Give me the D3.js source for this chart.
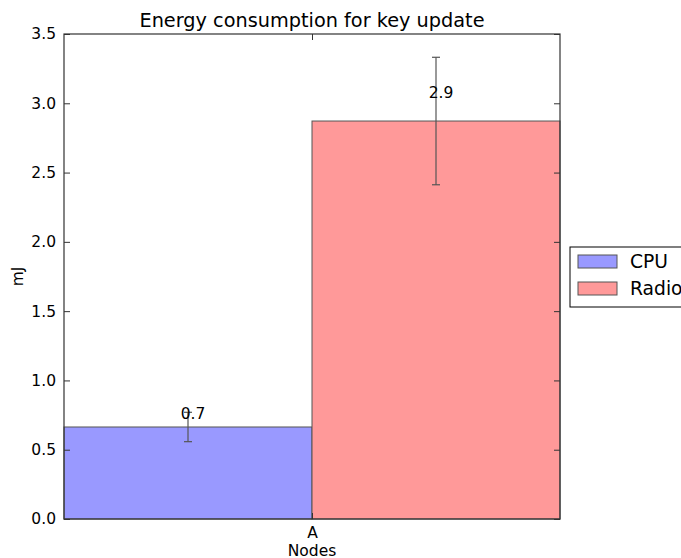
<!DOCTYPE html>
<html>
<head>
<meta charset="utf-8">
<script src="https://cdn.jsdelivr.net/npm/d3@7"></script>
<style>
body { margin: 0; background: #fff; }
text { font-family: "DejaVu Sans", sans-serif; }
</style>
</head>
<body>
<script>
var groups = ["A"]
var series = ["CPU", "Radio"]
var values = [0.664, 2.872]
var errors = [0.106, 0.46]
var labels = ["0.7", "2.9"]
var yTicks = [0, 0.5, 1.0, 1.5, 2.0, 2.5, 3.0, 3.5]
var colors = ["#9999ff", "#ff9999"]

var margin = {top: 34, left: 64, right: 121, bottom: 39}
var W = 681, H = 558
var w = W - margin.left - margin.right,
    h = H - margin.top - margin.bottom

var svg = d3.select("body").append("svg")
    .attr("width", W).attr("height", H)

var g = svg.append("g")
    .attr("transform", `translate(${margin.left}, ${margin.top})`)

var x = d3.scaleBand().domain(series).range([0, w]).padding(0)
var y = d3.scaleLinear().domain([0, 3.5]).range([h, 0])

// bars
g.selectAll("rect.bar").data(values).enter()
  .append("rect")
    .attr("class", "bar")
    .attr("x", function(d, i){ return x(series[i]) })
    .attr("width", x.bandwidth())
    .attr("y", function(d){ return y(d) })
    .attr("height", function(d){ return h - y(d) })
    .attr("fill", function(d, i){ return colors[i] })
    .attr("stroke", "#555")
    .attr("stroke-width", 1)

// error bars
var eb = g.selectAll("g.err").data(values).enter().append("g")
  .attr("stroke", "#555").attr("stroke-width", 1.2)
eb.append("line")
  .attr("x1", function(d, i){ return x(series[i]) + x.bandwidth() / 2 })
  .attr("x2", function(d, i){ return x(series[i]) + x.bandwidth() / 2 })
  .attr("y1", function(d, i){ return y(d - errors[i]) })
  .attr("y2", function(d, i){ return y(d + errors[i]) })
;[-1, 1].forEach(function(s){
  eb.append("line")
    .attr("x1", function(d, i){ return x(series[i]) + x.bandwidth() / 2 - 4 })
    .attr("x2", function(d, i){ return x(series[i]) + x.bandwidth() / 2 + 4 })
    .attr("y1", function(d, i){ return y(d + s * errors[i]) })
    .attr("y2", function(d, i){ return y(d + s * errors[i]) })
})

// value labels
g.selectAll("text.val").data(values).enter()
  .append("text")
    .attr("x", function(d, i){ return x(series[i]) + x.bandwidth() / 2 + 5 })
    .attr("y", function(d){ return y(d * 1.05) - 3 })
    .attr("text-anchor", "middle")
    .attr("font-size", 15.5)
    .text(function(d, i){ return labels[i] })

// axes (inward ticks, matplotlib classic)
var yAxis = g.append("g").call(d3.axisLeft(y).tickValues(yTicks).tickSizeInner(-6).tickSizeOuter(0).tickPadding(8)
    .tickFormat(d3.format(".1f")))
var yAxisR = g.append("g").attr("transform", `translate(${w},0)`)
    .call(d3.axisRight(y).tickValues(yTicks).tickSizeInner(-6).tickSizeOuter(0).tickFormat(""))
var xs = d3.scalePoint().domain(groups).range([0, w]).padding(0.5)
var xAxis = g.append("g").attr("transform", `translate(0, ${h})`)
    .call(d3.axisBottom(xs).tickSizeInner(-6).tickSizeOuter(0).tickPadding(8))
var xAxisT = g.append("g")
    .call(d3.axisTop(xs).tickSizeInner(-6).tickSizeOuter(0).tickFormat(""))

;[yAxis, yAxisR, xAxis, xAxisT].forEach(function(a){
  a.selectAll("path.domain").remove()
  a.selectAll("line").attr("stroke", "#333")
  a.selectAll("text").attr("font-size", 15.5).attr("fill", "#000").attr("font-family", "DejaVu Sans")
})

// frame
g.append("rect").attr("width", w).attr("height", h)
  .attr("fill", "none").attr("stroke", "#333").attr("stroke-width", 1.2)

// titles
svg.append("text").attr("x", margin.left + w / 2).attr("y", 27)
  .attr("text-anchor", "middle").attr("font-size", 19.3)
  .text("Energy consumption for key update")
svg.append("text").attr("x", margin.left + w / 2).attr("y", 556)
  .attr("text-anchor", "middle").attr("font-size", 15.5)
  .text("Nodes")
svg.append("text").attr("transform", `translate(23, ${margin.top + h / 2}) rotate(-90)`)
  .attr("text-anchor", "middle").attr("font-size", 15.5)
  .text("mJ")

// legend
var lg = svg.append("g").attr("transform", "translate(570, 247)")
lg.append("rect").attr("width", 140).attr("height", 60)
  .attr("fill", "#fff").attr("stroke", "#000").attr("stroke-width", 1)
series.forEach(function(s, i){
  lg.append("rect").attr("x", 8).attr("y", 8 + i * 27).attr("width", 39).attr("height", 13)
    .attr("fill", colors[i]).attr("stroke", "#555")
  lg.append("text").attr("x", 60).attr("y", 21 + i * 27)
    .attr("font-size", 18.7).text(s)
})
</script>
</body>
</html>
